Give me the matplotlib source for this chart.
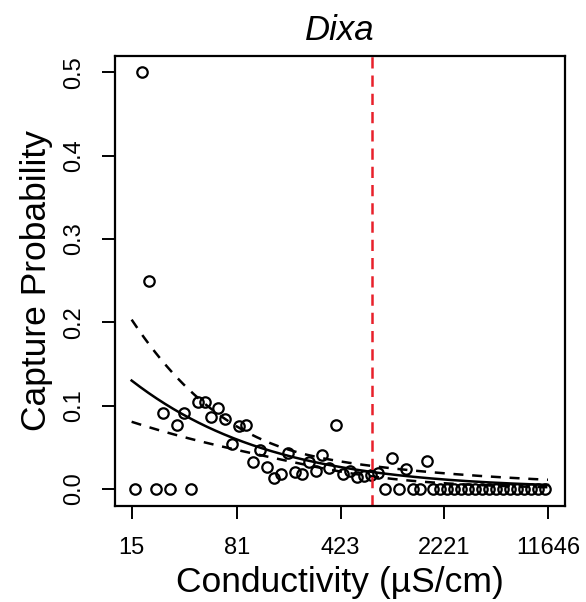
import numpy as np
import matplotlib.pyplot as plt
from matplotlib.ticker import NullLocator

plt.rcParams['font.family'] = ['Liberation Sans', 'DejaVu Sans']

# binned conductivity (uS/cm) and observed capture probability
conductivity = [15.9, 17.7, 19.8, 22.1, 24.7, 27.6, 30.9, 34.5, 38.5, 43.0,
                48.1, 53.7, 60.0, 67.1, 74.9, 83.7, 93.5, 104.5, 116.8, 130.5,
                145.8, 162.9, 182.0, 203.3, 227.2, 253.8, 283.6, 316.9, 354.0, 395.6,
                442.0, 493.8, 551.7, 616.4, 688.7, 769.5, 859.8, 960.6, 1073, 1199,
                1340, 1497, 1673, 1869, 2088, 2333, 2607, 2913, 3254, 3636,
                4063, 4539, 5072, 5667, 6331, 7074, 7904, 8831, 9867, 11024]
capture_prob = [0, 0.5, 0.25, 0, 0.091, 0, 0.077, 0.091, 0, 0.105,
                0.105, 0.087, 0.097, 0.084, 0.054, 0.076, 0.077, 0.033, 0.047, 0.026,
                0.013, 0.018, 0.043, 0.021, 0.018, 0.032, 0.022, 0.041, 0.025, 0.077,
                0.018, 0.022, 0.015, 0.016, 0.017, 0.019, 0, 0.037, 0, 0.024,
                0, 0, 0.034, 0, 0, 0, 0, 0, 0, 0,
                0, 0, 0, 0, 0, 0, 0, 0, 0, 0]

x_ticks = [15, 81, 423, 2221, 11646]
y_ticks = [0.0, 0.1, 0.2, 0.3, 0.4, 0.5]
threshold = 700

# logistic fit on log10(conductivity), with 95% band
fit_a, fit_b = -0.512, -1.18
se_0, se_b, se_center = 0.092, 0.23, 2.29

def inv_logit(z):
    return 1.0 / (1.0 + np.exp(-z))

L = np.linspace(np.log10(x_ticks[0]), np.log10(x_ticks[-1]), 300)
eta = fit_a + fit_b * L
half = 1.96 * np.sqrt(se_0 ** 2 + se_b ** 2 * (L - se_center) ** 2)
xc = 10 ** L

fig = plt.figure(figsize=(5.86, 6.02), dpi=100)
ax = fig.add_axes([0.1962, 0.16, 0.7673, 0.7476])

ax.plot(conductivity, capture_prob, 'o', mfc='none', mec='black', ms=7.5, mew=1.6)
ax.plot(xc, inv_logit(eta), color='black', lw=1.8)
ax.plot(xc, inv_logit(eta + half), color='black', lw=1.8, dashes=(4, 3.5))
ax.plot(xc, inv_logit(eta - half), color='black', lw=1.8, dashes=(4, 3.5))
ax.axvline(threshold, color='#e8202a', lw=1.8, dashes=(4.5, 2.8))

ax.set_xscale('log')
lo, hi = np.log10(x_ticks[0]), np.log10(x_ticks[-1])
ext = 0.04 * (hi - lo)
ax.set_xlim(10 ** (lo - ext), 10 ** (hi + ext))
ax.set_ylim(-0.02, 0.52)
ax.set_xticks(x_ticks)
ax.set_xticklabels([str(v) for v in x_ticks])
ax.xaxis.set_minor_locator(NullLocator())
ax.set_yticks(y_ticks)
ax.set_yticklabels(['%.1f' % v for v in y_ticks], rotation=90, va='center')

ax.tick_params(axis='both', labelsize=17, length=9.5, width=1.4, direction='out')
ax.tick_params(axis='x', pad=13)
ax.tick_params(axis='y', pad=12)
for s in ax.spines.values():
    s.set_linewidth(1.6)

ax.set_xlabel('Conductivity (µS/cm)', fontsize=25.5, labelpad=5)
ax.set_ylabel('Capture Probability', fontsize=25.5, labelpad=7)
ax.set_title('Dixa', fontsize=25, style='italic', pad=11)

fig.savefig('out.png', dpi=100)
